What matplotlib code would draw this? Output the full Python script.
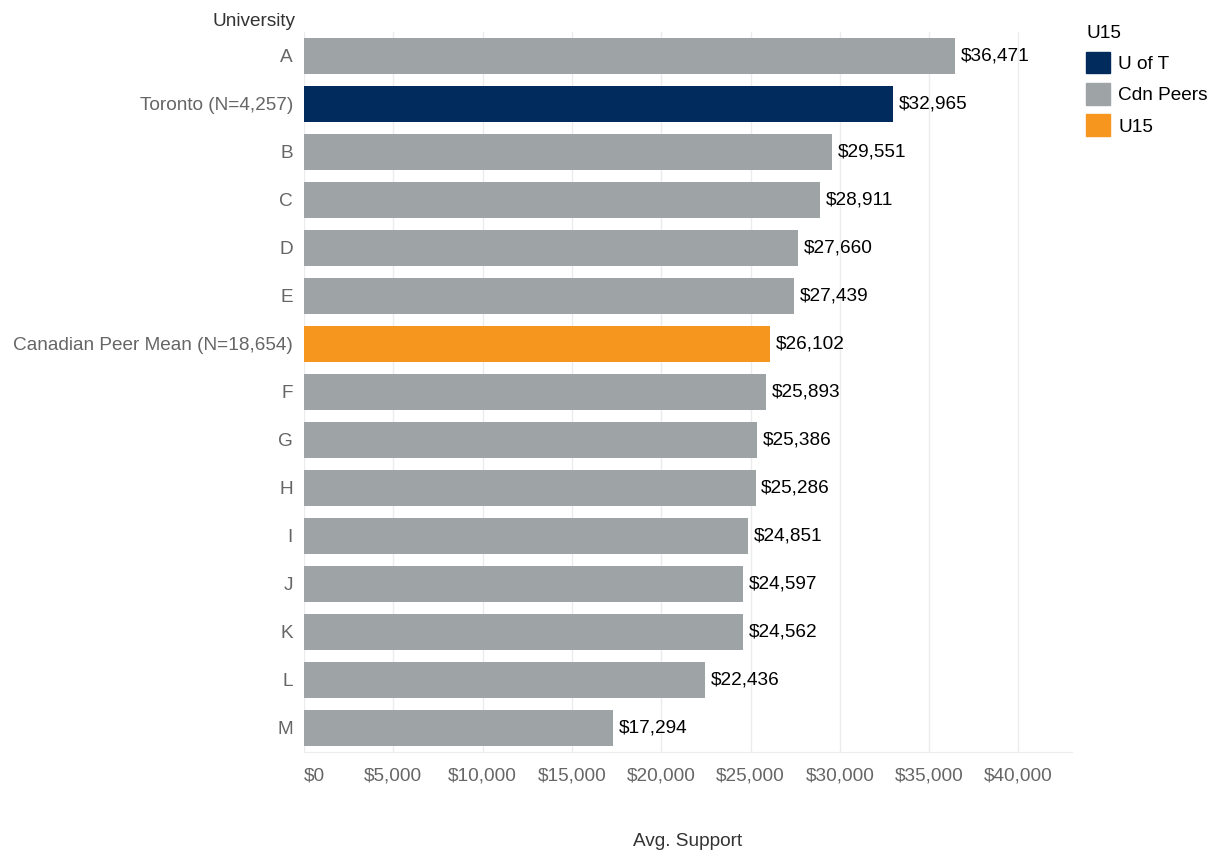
import matplotlib.pyplot as plt
from matplotlib.patches import Patch
from matplotlib.ticker import FuncFormatter

plt.rcParams['font.family'] = ['Liberation Sans', 'DejaVu Sans']

universities = ["A", "Toronto (N=4,257)", "B", "C", "D", "E", "Canadian Peer Mean (N=18,654)",
                "F", "G", "H", "I", "J", "K", "L", "M"]
avgSupport = [36471, 32965, 29551, 28911, 27660, 27439, 26102,
              25893, 25386, 25286, 24851, 24597, 24562, 22436, 17294]
groups = ["Cdn Peers", "U of T", "Cdn Peers", "Cdn Peers", "Cdn Peers", "Cdn Peers", "U15",
          "Cdn Peers", "Cdn Peers", "Cdn Peers", "Cdn Peers", "Cdn Peers", "Cdn Peers", "Cdn Peers", "Cdn Peers"]
legendOrder = ["U of T", "Cdn Peers", "U15"]
groupColors = {"U of T": "#002B5C", "Cdn Peers": "#9EA3A6", "U15": "#F7961F"}

fs = 13.7

fig = plt.figure(figsize=(12.12, 8.52), dpi=100)
ax = fig.add_axes([304 / 1212, 1 - 752 / 852, (1072 - 304) / 1212, (752 - 32) / 852])

positions = list(range(len(universities)))
ax.barh(positions, avgSupport, height=0.75, color=[groupColors[g] for g in groups], zorder=2)
for pos, val in zip(positions, avgSupport):
    ax.text(val + 320, pos, f"${val:,}", va='center', ha='left', fontsize=fs, color='black')

ax.set_ylim(len(universities) - 0.5, -0.5)
ax.set_xlim(0, 43000)
ax.set_yticks(positions)
ax.set_yticklabels(universities)
ax.set_xticks(range(0, 40001, 5000))
ax.xaxis.set_major_formatter(FuncFormatter(lambda v, p: f"${int(v):,}"))
ax.tick_params(axis='both', length=0, labelsize=fs, colors='#666666')
ax.tick_params(axis='x', pad=11)
ax.tick_params(axis='y', pad=8)
ax.get_xticklabels()[0].set_horizontalalignment('left')
ax.grid(axis='x', color='#ececec', linewidth=1, zorder=0)
for side in ['top', 'right', 'left']:
    ax.spines[side].set_visible(False)
ax.spines['bottom'].set_color('#ececec')

fig.text(688 / 1212, 1 - 842 / 852, "Avg. Support", ha='center', va='center', fontsize=fs, color='#333333')
fig.text(295 / 1212, 1 - 21 / 852, "University", ha='right', va='center', fontsize=fs, color='#333333')

handles = [Patch(color=groupColors[g], label=g) for g in legendOrder]
fig.legend(handles=handles, title="U15", loc='upper left', bbox_to_anchor=(1086 / 1212, 1 - 25 / 852),
           frameon=False, fontsize=fs, title_fontsize=fs, handlelength=1.25, handleheight=1.4,
           handletextpad=0.45, labelspacing=0.5, alignment='left', borderaxespad=0, borderpad=0)

fig.savefig("out.png", dpi=100)
